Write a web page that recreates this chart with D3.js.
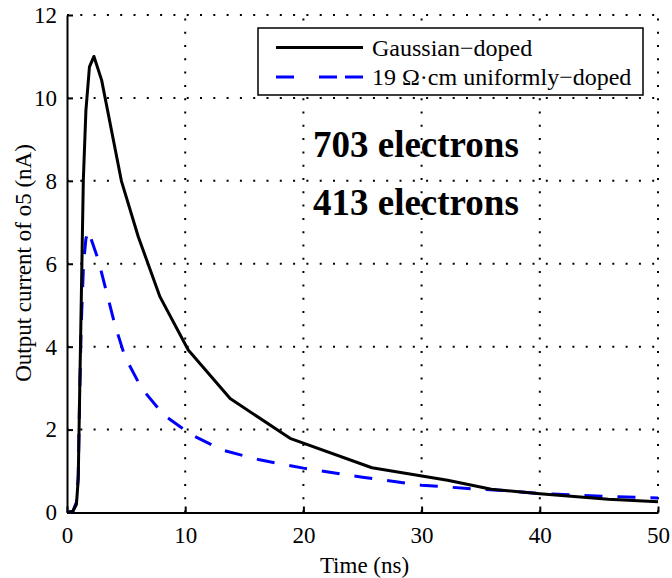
<!DOCTYPE html>
<html>
<head>
<meta charset="utf-8">
<script src="https://cdn.jsdelivr.net/npm/d3@7"></script>
<style>
  body { margin: 0; background: #fff; }
  text { font-family: "Liberation Serif", "Times New Roman", serif; }
</style>
</head>
<body>
<div id="chart"></div>
<script>
// time (ns) and output current (nA)
var gaussTime = [0, 0.5, 0.8, 0.95, 1.05, 1.2, 1.38, 1.6, 1.9, 2.28, 2.93, 4.6, 6.03, 7.87, 10.26, 13.8, 18.87, 25.8, 32.2, 35.9, 40, 45.8, 50];
var gaussCurrent = [0, 0.03, 0.2, 0.8, 2.5, 5, 8, 9.7, 10.75, 11.0, 10.43, 8.0, 6.65, 5.2, 3.92, 2.75, 1.79, 1.08, 0.78, 0.56, 0.45, 0.32, 0.26];

var uniTime = [0, 0.5, 0.8, 0.95, 1.05, 1.2, 1.4, 1.6, 1.8, 2.65, 4.06, 4.9, 6.3, 8.2, 10.55, 13.2, 16.3, 20, 25, 30, 33.9, 36.9, 40, 43.1, 46.2, 50];
var uniCurrent = [0, 0.03, 0.25, 0.9, 2.5, 4.5, 6.0, 6.6, 6.8, 6.09, 4.52, 3.76, 3.0, 2.35, 1.87, 1.5, 1.27, 1.07, 0.85, 0.66, 0.58, 0.53, 0.46, 0.42, 0.38, 0.35];

var xTicks = [0, 10, 20, 30, 40, 50];
var yTicks = [0, 2, 4, 6, 8, 10, 12];
var legendLabels = ["Gaussian\u2212doped", "19 \u03A9\u00B7cm uniformly\u2212doped"];
var notes = ["703 electrons", "413 electrons"];

var width = 672, height = 578;
var plotLeft = 67, plotRight = 658, plotTop = 15, plotBottom = 512.5;

var svg = d3.select("#chart").append("svg")
    .attr("width", width)
    .attr("height", height)
    .style("background", "#fff");

var x = d3.scaleLinear().domain([0, 50]).range([plotLeft, plotRight]);
var y = d3.scaleLinear().domain([0, 12]).range([plotBottom, plotTop]);

// dotted grid
var grid = svg.append("g");
grid.selectAll(".gx")
    .data(xTicks.filter(function(d){ return d > 0; }))
    .enter().append("line")
      .attr("x1", function(d){ return x(d); })
      .attr("x2", function(d){ return x(d); })
      .attr("y1", plotBottom).attr("y2", plotTop)
      .attr("stroke", "#000").attr("stroke-width", 2)
      .attr("stroke-dasharray", "2,11.3");
grid.selectAll(".gy")
    .data(yTicks.filter(function(d){ return d > 0; }))
    .enter().append("line")
      .attr("x1", plotLeft).attr("x2", plotRight)
      .attr("y1", function(d){ return y(d); })
      .attr("y2", function(d){ return y(d); })
      .attr("stroke", "#000").attr("stroke-width", 2)
      .attr("stroke-dasharray", "2,11.3");

// axes
var xAxis = svg.append("g")
    .attr("transform", "translate(0," + plotBottom + ")")
    .call(d3.axisBottom(x).tickValues(xTicks).tickSizeInner(-6).tickSizeOuter(0).tickPadding(14));
var yAxis = svg.append("g")
    .attr("transform", "translate(" + plotLeft + ",0)")
    .call(d3.axisLeft(y).tickValues(yTicks).tickSizeInner(-6).tickSizeOuter(0).tickPadding(10));

[xAxis, yAxis].forEach(function(a){
  a.select(".domain").attr("stroke", "#000").attr("stroke-width", 2);
  a.selectAll(".tick line").attr("stroke", "#000").attr("stroke-width", 2);
  a.selectAll(".tick text")
    .attr("fill", "#000")
    .style("font-family", "'Liberation Serif', serif")
    .style("font-size", "23px");
});

// curves
var line = d3.line()
    .x(function(d){ return x(d[0]); })
    .y(function(d){ return y(d[1]); });

svg.append("path")
    .datum(d3.zip(uniTime, uniCurrent))
    .attr("d", line)
    .attr("fill", "none")
    .attr("stroke", "#0000ff")
    .attr("stroke-width", 3)
    .attr("stroke-dasharray", "18,15");

svg.append("path")
    .datum(d3.zip(gaussTime, gaussCurrent))
    .attr("d", line)
    .attr("fill", "none")
    .attr("stroke", "#000")
    .attr("stroke-width", 3)
    .attr("stroke-linejoin", "round");

// legend
var legend = svg.append("g");
legend.append("rect")
    .attr("x", 258).attr("y", 28)
    .attr("width", 385).attr("height", 67)
    .attr("fill", "#fff")
    .attr("stroke", "#000").attr("stroke-width", 1.5);

legendLabels.forEach(function(lab, i){
  var ly = 47.5 + i * 29.5;
  legend.append("line")
      .attr("x1", 276).attr("x2", 363)
      .attr("y1", ly).attr("y2", ly)
      .attr("stroke", i == 0 ? "#000" : "#0000ff")
      .attr("stroke-width", 3)
      .attr("stroke-dasharray", i == 0 ? null : "18,25,18,8,18");
  legend.append("text")
      .attr("x", 372).attr("y", ly + 8)
      .style("font-size", "24px")
      .attr("fill", "#000")
      .text(lab);
});

// electron counts
notes.forEach(function(n, i){
  svg.append("text")
      .attr("x", 313).attr("y", 157 + i * 58)
      .style("font-size", "37px")
      .style("font-weight", "bold")
      .attr("fill", "#000")
      .text(n);
});

// axis titles
svg.append("text")
    .attr("x", (plotLeft + plotRight) / 2 + 2).attr("y", 573)
    .attr("text-anchor", "middle")
    .style("font-size", "23px")
    .text("Time (ns)");

svg.append("text")
    .attr("transform", "translate(31,263) rotate(-90)")
    .attr("text-anchor", "middle")
    .style("font-size", "23px")
    .text("Output current of o5 (nA)");
</script>
</body>
</html>
